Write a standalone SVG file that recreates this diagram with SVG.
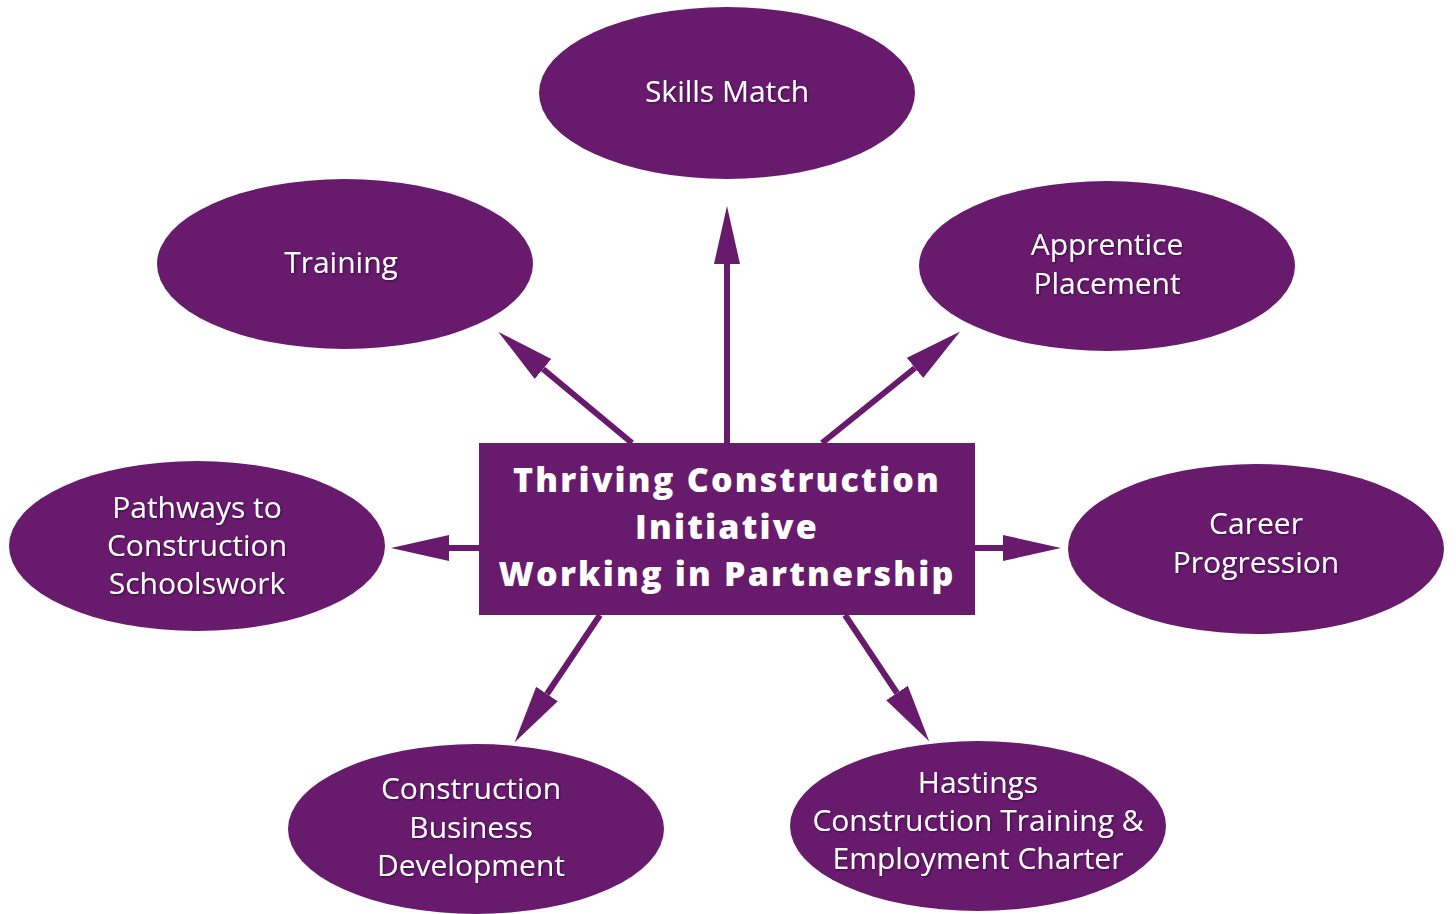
<svg xmlns="http://www.w3.org/2000/svg" width="1456" height="914" viewBox="0 0 1456 914">
  <style>
    .node { fill: #681a6d; }
    .lbl { font-family: "Open Sans", "Liberation Sans", sans-serif; font-size: 30px; fill: #ffffff; text-anchor: middle; filter: url(#shade); }
    .title { font-family: "Open Sans", "DejaVu Sans", sans-serif; font-weight: 800; font-size: 34px; letter-spacing: 2.2px; fill: #ffffff; text-anchor: middle; }
    .conn { stroke: #681a6d; stroke-width: 6; fill: none; marker-end: url(#head); }
  </style>
  <defs>
    <marker id="head" markerUnits="userSpaceOnUse" markerWidth="60" markerHeight="28" refX="0" refY="13" orient="auto">
      <path d="M0,0 L58,13 L0,26 z" fill="#681a6d"/>
    </marker>
    <filter id="shade" x="-10%" y="-20%" width="120%" height="140%">
      <feDropShadow dx="1" dy="1" stdDeviation="0.8" flood-color="#2a0030" flood-opacity="0.7"/>
    </filter>
  </defs>
  <rect width="1456" height="914" fill="#ffffff"/>

  <g id="connectors">
    <line class="conn" x1="727" y1="443" x2="727" y2="264"/>
    <line class="conn" x1="632" y1="443" x2="543" y2="369"/>
    <line class="conn" x1="822" y1="443" x2="915" y2="368"/>
    <line class="conn" x1="479" y1="548" x2="449" y2="548"/>
    <line class="conn" x1="975" y1="548" x2="1003" y2="548"/>
    <line class="conn" x1="600" y1="615" x2="547" y2="694"/>
    <line class="conn" x1="845" y1="615" x2="897" y2="693"/>
  </g>

  <g id="center">
    <rect class="node" x="479" y="443" width="496" height="172"/>
    <text class="title" x="727" y="492">Thriving Construction</text>
    <text class="title" x="727" y="539">Initiative</text>
    <text class="title" x="727" y="586">Working in Partnership</text>
  </g>

  <g id="skills-match">
    <ellipse class="node" cx="727" cy="93" rx="188" ry="86"/>
    <text class="lbl" x="727" y="102">Skills Match</text>
  </g>

  <g id="training">
    <ellipse class="node" cx="345" cy="264" rx="188" ry="85"/>
    <text class="lbl" x="341" y="273">Training</text>
  </g>

  <g id="apprentice-placement">
    <ellipse class="node" cx="1107" cy="266" rx="188" ry="85"/>
    <text class="lbl" x="1107" y="255">Apprentice</text>
    <text class="lbl" x="1107" y="294">Placement</text>
  </g>

  <g id="pathways">
    <ellipse class="node" cx="197" cy="546" rx="188" ry="85"/>
    <text class="lbl" x="197" y="518">Pathways to</text>
    <text class="lbl" x="197" y="556">Construction</text>
    <text class="lbl" x="197" y="594">Schoolswork</text>
  </g>

  <g id="career-progression">
    <ellipse class="node" cx="1256" cy="549" rx="188" ry="85"/>
    <text class="lbl" x="1256" y="534">Career</text>
    <text class="lbl" x="1256" y="573">Progression</text>
  </g>

  <g id="business-development">
    <ellipse class="node" cx="476" cy="829" rx="188" ry="85"/>
    <text class="lbl" x="471" y="799">Construction</text>
    <text class="lbl" x="471" y="838">Business</text>
    <text class="lbl" x="471" y="876">Development</text>
  </g>

  <g id="hastings-charter">
    <ellipse class="node" cx="978" cy="826" rx="188" ry="85"/>
    <text class="lbl" x="978" y="793">Hastings</text>
    <text class="lbl" x="978" y="831">Construction Training &amp;</text>
    <text class="lbl" x="978" y="869">Employment Charter</text>
  </g>
</svg>
